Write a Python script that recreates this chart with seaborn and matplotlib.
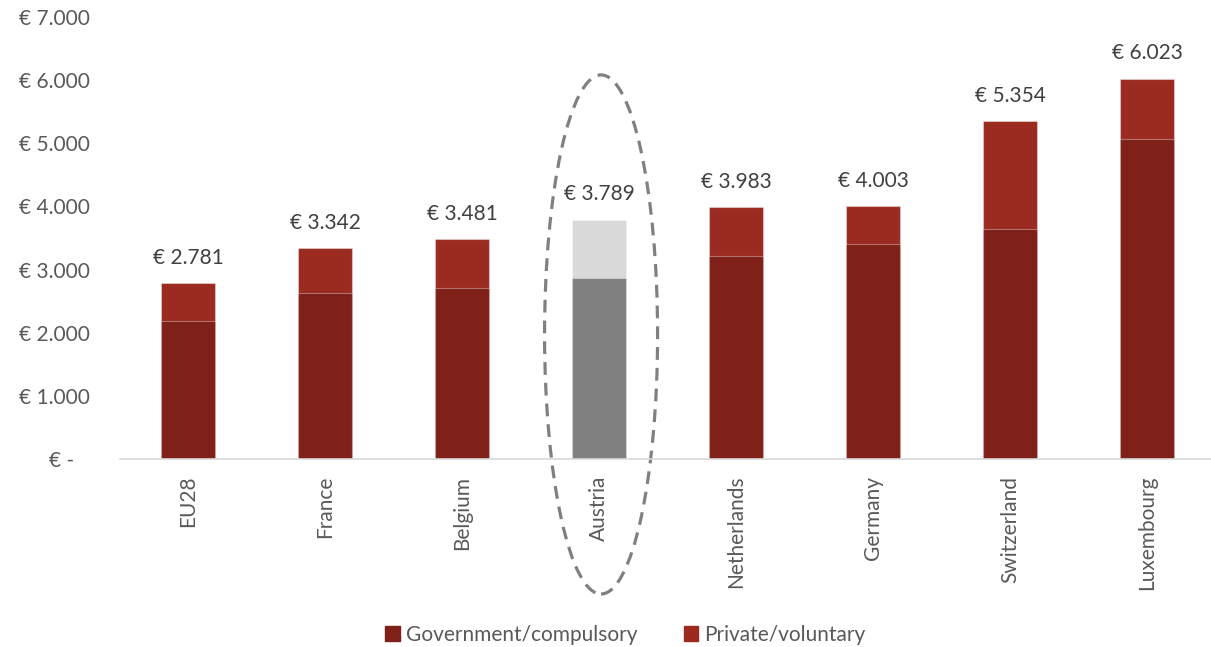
import numpy as np
import pandas as pd
import matplotlib.pyplot as plt
import seaborn as sns
from matplotlib.patches import Ellipse, Patch
from matplotlib.ticker import FuncFormatter

countries = ["EU28", "France", "Belgium", "Austria", "Netherlands", "Germany", "Switzerland", "Luxembourg"]
totals = [2781, 3342, 3481, 3789, 3983, 4003, 5354, 6023]
government = [2186, 2624, 2703, 2871, 3210, 3400, 3638, 5063]

gov_color = "#7f2019"
priv_color = "#9b2b20"
gov_colors = [gov_color, gov_color, gov_color, "#808080", gov_color, gov_color, gov_color, gov_color]
priv_colors = [priv_color, priv_color, priv_color, "#d9d9d9", priv_color, priv_color, priv_color, priv_color]

df = pd.DataFrame({"Country": countries, "Total": totals, "Government": government})

sns.set_style("white")
plt.rcParams["font.family"] = ["Lato", "DejaVu Sans"]

fig = plt.figure(figsize=(12.11, 6.47), dpi=100)
ax = fig.add_axes([0.0987, 0.2906, 0.9013, 0.6832])

# total bar first (private part shows above), then government part over it
sns.barplot(data=df, x="Country", y="Total", hue="Country", palette=priv_colors, saturation=1,
            width=0.4, edgecolor=(1, 1, 1, 0.35), linewidth=0.8, legend=False, ax=ax)
sns.barplot(data=df, x="Country", y="Government", hue="Country", palette=gov_colors, saturation=1,
            width=0.4, edgecolor=(1, 1, 1, 0.35), linewidth=0.8, legend=False, ax=ax)

for i, t in enumerate(totals):
    ax.annotate("€ " + f"{t:,}".replace(",", "."), (i, t), xytext=(0, 11), textcoords="offset points",
                ha="center", va="bottom", fontsize=15, color="#404040")

ax.set_ylim(0, 7000)
ax.set_xlim(-0.5, 7.467)
ax.set_yticks(np.arange(0, 7001, 1000))


def euro(v, pos):
    if v == 0:
        return "€ -   "
    return "€ " + f"{int(v):,}".replace(",", ".")


ax.yaxis.set_major_formatter(FuncFormatter(euro))
ax.tick_params(axis="y", labelsize=15, labelcolor="#595959", length=0, pad=21)
ax.tick_params(axis="x", labelsize=15, labelcolor="#595959", length=0, pad=12, labelrotation=90)
ax.set_xlabel("")
ax.set_ylabel("")

for s in ["top", "right", "left"]:
    ax.spines[s].set_visible(False)
ax.spines["bottom"].set_color("#d9d9d9")
ax.spines["bottom"].set_linewidth(1.2)

ell = Ellipse((3.015, 1972), width=0.825, height=8220, fill=False, edgecolor="#808080",
              linewidth=2.3, linestyle=(0, (4, 2.5)), clip_on=False)
ax.add_patch(ell)

handles = [Patch(color=gov_color, label="Government/compulsory"),
           Patch(color=priv_color, label="Private/voluntary")]
fig.legend(handles=handles, loc="center", bbox_to_anchor=(0.5165, 0.0185), ncol=2, frameon=False,
           fontsize=15, labelcolor="#595959", handlelength=0.7, handleheight=0.7,
           handletextpad=0.3, columnspacing=2.2)

plt.savefig("out.png", dpi=100)
